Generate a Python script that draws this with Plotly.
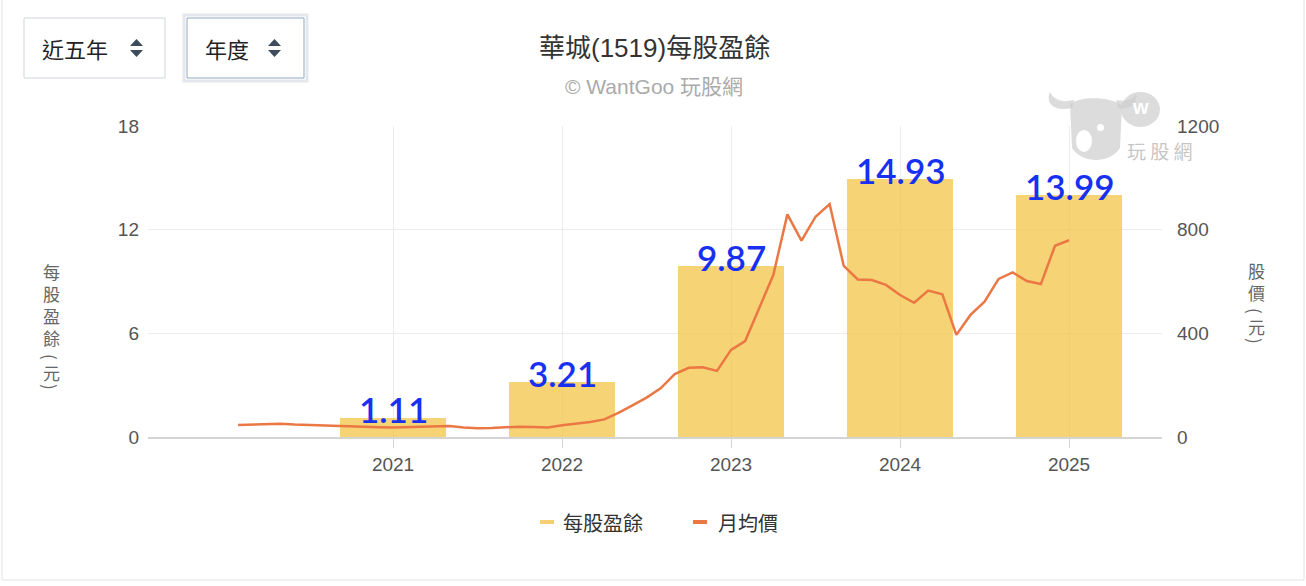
import plotly.graph_objects as go

# ---------------- data ----------------
years = [2021, 2022, 2023, 2024, 2025]
eps = [1.11, 3.21, 9.87, 14.93, 13.99]
eps_labels = ["1.11", "3.21", "9.87", "14.93", "13.99"]

# monthly average price, Feb 2020 .. Jan 2025
price_start_year = 2020
price_start_month = 2
monthly_price = [46, 47, 49, 51, 48, 46, 45, 43, 41, 40, 38, 37,
                 38, 40, 41, 42, 37, 34, 35, 38, 40, 39, 37, 45,
                 51, 58, 68, 93, 122, 152, 188, 243, 267, 269, 255, 336,
                 370, 497, 625, 859, 758, 850, 899, 660, 608, 606, 587, 548,
                 518, 565, 551, 394, 471, 522, 610, 635, 602, 590, 738, 759]
month_x = [price_start_year + (price_start_month - 1 + i) / 12 for i in range(len(monthly_price))]

left_ticks = [0, 6, 12, 18]
right_ticks = [0, 400, 800, 1200]

title_text = "華城(1519)每股盈餘"
subtitle_text = "© WantGoo 玩股網"
left_axis_title = ["每", "股", "盈", "餘"]
right_axis_title = ["股", "價"]
unit_text = "元"

# ---------------- geometry helpers ----------------
W, H = 1306, 586
L, R, T, B = 148, 1162, 126, 437


def PX(x):
    return (x - L) / (R - L)


def PY(y):
    return (B - y) / (B - T)


FONT = "Liberation Sans, Noto Sans CJK TC, sans-serif"
CJK = "Noto Sans CJK TC, sans-serif"

fig = go.Figure()
fig.add_bar(x=years, y=eps, width=0.627, yaxis="y",
            marker=dict(color="rgba(242,196,64,0.72)", line=dict(width=0)),
            name="每股盈餘", showlegend=False, hoverinfo="x+y")
fig.add_scatter(x=month_x, y=monthly_price, mode="lines", yaxis="y2",
                line=dict(color="#eb7745", width=2.5),
                name="月均價", showlegend=False)

annotations = []
shapes = []


def txt(x, y, text, size, color, family=CJK, xanchor="center", angle=0):
    annotations.append(dict(x=PX(x), y=PY(y), xref="paper", yref="paper", text=text, showarrow=False,
                            xanchor=xanchor, yanchor="middle", textangle=angle,
                            font=dict(family=family, size=size, color=color)))


# EPS labels above bars
for xv, yv, lab in zip(years, eps, eps_labels):
    annotations.append(dict(x=xv, y=yv, xref="x", yref="y", text=lab, showarrow=False,
                            xanchor="center", yanchor="bottom", yshift=-14,
                            font=dict(family="Lato, sans-serif", size=35, color="#1830f2", weight=600)))

# title / subtitle
txt(654, 48, title_text, 26, "#333333", FONT)
txt(654, 87, subtitle_text, 21, "#aaaaaa", FONT)

# vertical axis titles (stacked characters, rotated parentheses)
AX = "#666666"
txt(51, 304, "<br>".join(left_axis_title), 17, AX)
txt(51, 357, "(", 17, AX, angle=90)
txt(51, 372, unit_text, 17, AX)
txt(51, 387, ")", 17, AX, angle=90)
txt(1256, 281, "<br>".join(right_axis_title), 17, AX)
txt(1256, 311, "(", 17, AX, angle=90)
txt(1256, 326, unit_text, 17, AX)
txt(1256, 341, ")", 17, AX, angle=90)

# legend (manual)
shapes.append(dict(type="line", xref="paper", yref="paper", x0=PX(540), x1=PX(554), y0=PY(522), y1=PY(522),
                   line=dict(color="#f5d06e", width=4)))
shapes.append(dict(type="line", xref="paper", yref="paper", x0=PX(693), x1=PX(707), y0=PY(522), y1=PY(522),
                   line=dict(color="#eb7745", width=4)))
txt(561, 522, "每股盈餘", 20, "#333333", xanchor="left")
txt(716, 522, "月均價", 20, "#333333", xanchor="left")

# dropdown boxes
shapes.append(dict(type="rect", xref="paper", yref="paper", x0=PX(24), x1=PX(165), y0=PY(18), y1=PY(78),
                   line=dict(color="#cfd4da", width=1), fillcolor="white", layer="above"))
shapes.append(dict(type="rect", xref="paper", yref="paper", x0=PX(184), x1=PX(307), y0=PY(15), y1=PY(81),
                   line=dict(color="#e4e7eb", width=3), fillcolor="white", layer="above"))
shapes.append(dict(type="rect", xref="paper", yref="paper", x0=PX(187), x1=PX(304), y0=PY(18), y1=PY(78),
                   line=dict(color="#93a9c6", width=1), fillcolor="white", layer="above"))
txt(40, 48, "近五年", 22, "#222222", xanchor="left")
txt(203, 48, "年度", 22, "#222222", xanchor="left")
for cx in (136.5, 274.5):
    up = f"M {PX(cx-6.5)},{PY(46)} L {PX(cx+6.5)},{PY(46)} L {PX(cx)},{PY(39)} Z"
    dn = f"M {PX(cx-6.5)},{PY(50)} L {PX(cx+6.5)},{PY(50)} L {PX(cx)},{PY(57)} Z"
    for p in (up, dn):
        shapes.append(dict(type="path", xref="paper", yref="paper", path=p,
                           fillcolor="#3e4b5b", line=dict(width=0), layer="above"))

# watermark (approximate logo)
wm = "rgba(205,205,205,0.7)"
head = (f"M {PX(1070)},{PY(104)} C {PX(1080)},{PY(96)} {PX(1112)},{PY(96)} {PX(1122)},{PY(106)} "
        f"L {PX(1120)},{PY(148)} C {PX(1110)},{PY(164)} {PX(1082)},{PY(164)} {PX(1072)},{PY(148)} Z")
horn_l = (f"M {PX(1072)},{PY(108)} C {PX(1055)},{PY(112)} {PX(1045)},{PY(104)} {PX(1050)},{PY(92)} "
          f"C {PX(1054)},{PY(100)} {PX(1062)},{PY(103)} {PX(1074)},{PY(100)} Z")
horn_r = (f"M {PX(1118)},{PY(108)} C {PX(1130)},{PY(110)} {PX(1138)},{PY(104)} {PX(1136)},{PY(94)} "
          f"C {PX(1132)},{PY(100)} {PX(1126)},{PY(102)} {PX(1116)},{PY(100)} Z")
for p in (head, horn_l, horn_r):
    shapes.append(dict(type="path", xref="paper", yref="paper", path=p, fillcolor=wm,
                       line=dict(width=0), layer="above"))
shapes.append(dict(type="circle", xref="paper", yref="paper", x0=PX(1121), x1=PX(1160), y0=PY(92), y1=PY(127),
                   fillcolor=wm, line=dict(width=0), layer="above"))
shapes.append(dict(type="circle", xref="paper", yref="paper", x0=PX(1076), x1=PX(1092), y0=PY(130), y1=PY(152),
                   fillcolor="white", line=dict(width=0), layer="above"))
shapes.append(dict(type="circle", xref="paper", yref="paper", x0=PX(1097), x1=PX(1104), y0=PY(124), y1=PY(131),
                   fillcolor="white", line=dict(width=0), layer="above"))
txt(1140, 107, "<b>w</b>", 20, "white", "Liberation Sans, sans-serif")
txt(1160, 150, "玩 股 網", 19, "rgba(190,190,190,0.9)")

# outer frame
shapes.append(dict(type="rect", xref="paper", yref="paper", x0=PX(2), x1=PX(1304), y0=PY(-5), y1=PY(580),
                   line=dict(color="#e2e2e2", width=1), layer="below"))

fig.update_layout(
    width=W, height=H,
    margin=dict(l=L, r=W - R, t=T, b=H - B),
    paper_bgcolor="white", plot_bgcolor="white",
    showlegend=False,
    bargap=0,
    font=dict(family=FONT, color="#555555"),
    xaxis=dict(range=[2019.55, 2025.55], tickvals=years, ticktext=[str(y) for y in years],
               showgrid=True, gridcolor="#ececec", gridwidth=1,
               showline=True, linecolor="#d4d4d4", linewidth=2,
               ticks="outside", ticklen=9, tickcolor="#d4d4d4", tickwidth=1,
               tickfont=dict(size=19, color="#555555"), zeroline=False, fixedrange=True),
    yaxis=dict(range=[0, 18], tickvals=left_ticks, showgrid=True, gridcolor="#ececec",
               zeroline=False, showline=False, ticks="", ticklabelstandoff=8,
               tickfont=dict(size=19, color="#555555"), fixedrange=True),
    yaxis2=dict(range=[0, 1200], tickvals=right_ticks, overlaying="y", side="right",
                showgrid=False, zeroline=False, showline=False, ticks="", ticklabelstandoff=14,
                tickfont=dict(size=19, color="#555555"), fixedrange=True),
    annotations=annotations,
    shapes=shapes,
)

fig.write_html("out.html")
